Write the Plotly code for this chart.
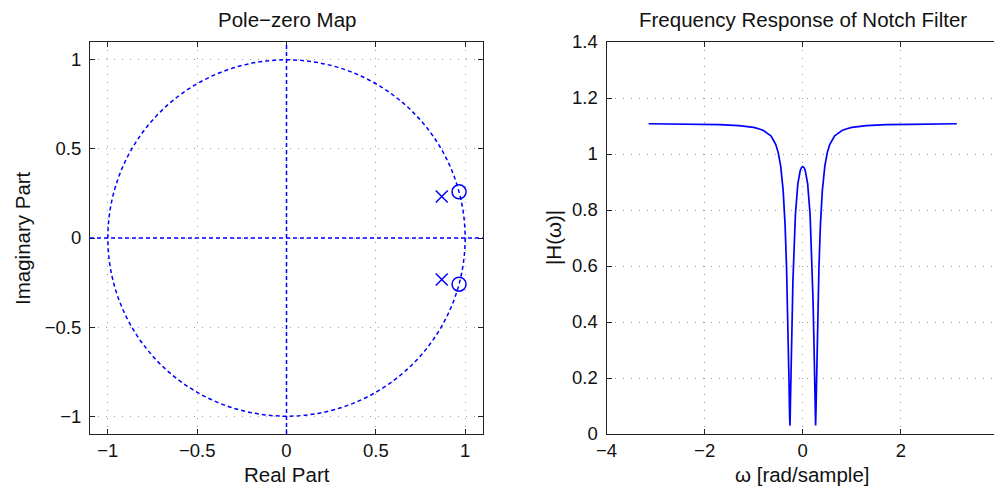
import plotly.graph_objects as go
from plotly.subplots import make_subplots

# ---- data ----
zeros_re = [0.966, 0.966]
zeros_im = [0.259, -0.259]
poles_re = [0.869, 0.869]
poles_im = [0.233, -0.233]

omega = [-3.1416, -2.7, -2.2, -1.7, -1.3, -1.0, -0.9, -0.8, -0.7, -0.65, -0.6, -0.55,
         -0.5, -0.45, -0.4, -0.36, -0.33, -0.32, -0.3, -0.29, -0.28, -0.27, -0.262,
         -0.255, -0.25, -0.24, -0.23, -0.21, -0.2, -0.15, -0.1, -0.05, -0.025, 0.0,
         0.025, 0.05, 0.1, 0.15, 0.2, 0.21, 0.23, 0.24, 0.25, 0.255, 0.262, 0.27,
         0.28, 0.29, 0.3, 0.32, 0.33, 0.36, 0.4, 0.45, 0.5, 0.55, 0.6, 0.65, 0.7,
         0.8, 0.9, 1.0, 1.3, 1.7, 2.2, 2.7, 3.1416]
mag = [1.108, 1.107, 1.106, 1.105, 1.101, 1.095, 1.090, 1.084, 1.071, 1.065, 1.050, 1.034,
       1.005, 0.957, 0.871, 0.746, 0.594, 0.528, 0.372, 0.282, 0.185, 0.085, 0.030,
       0.070, 0.121, 0.221, 0.314, 0.478, 0.548, 0.783, 0.893, 0.942, 0.952, 0.955,
       0.952, 0.942, 0.893, 0.783, 0.548, 0.478, 0.314, 0.221, 0.121, 0.070, 0.030, 0.085,
       0.185, 0.282, 0.372, 0.528, 0.594, 0.746, 0.871, 0.957, 1.005, 1.034, 1.050, 1.065, 1.071,
       1.084, 1.090, 1.095, 1.101, 1.105, 1.106, 1.107, 1.108]

pz_ticks = [-1, -0.5, 0, 0.5, 1]
w_ticks = [-4, -2, 0, 2, 4]
h_ticks = [0, 0.2, 0.4, 0.6, 0.8, 1, 1.2, 1.4]

FONT = "Liberation Sans"
FS_TICK = 18.5
FS_LAB = 20.5
BLUE = "#0000ff"

fig = make_subplots(rows=1, cols=2)

fig.add_trace(go.Scatter(x=zeros_re, y=zeros_im, mode="markers",
                         marker=dict(symbol="circle-open", size=14, color=BLUE,
                                     line=dict(width=1.5, color=BLUE)),
                         showlegend=False), row=1, col=1)
fig.add_trace(go.Scatter(x=poles_re, y=poles_im, mode="markers",
                         marker=dict(symbol="x-thin-open", size=12, color=BLUE,
                                     line=dict(width=1.5, color=BLUE)),
                         showlegend=False), row=1, col=1)
fig.add_trace(go.Scatter(x=omega, y=mag, mode="lines",
                         line=dict(color=BLUE, width=1.7), showlegend=False),
              row=1, col=2)

dash = "4px,3px"
# unit circle and axes through origin
fig.add_shape(type="circle", xref="x", yref="y", x0=-1, y0=-1, x1=1, y1=1,
              line=dict(color=BLUE, width=1.5, dash=dash))
fig.add_shape(type="line", xref="x domain", yref="y", x0=0, x1=1, y0=0, y1=0,
              line=dict(color=BLUE, width=1.5, dash=dash))
fig.add_shape(type="line", xref="x", yref="y domain", x0=0, x1=0, y0=0, y1=1,
              line=dict(color=BLUE, width=1.5, dash=dash))

W, H = 1002, 491
OFF = 8  # page body margin


def px(xs):
    return (xs - OFF) / W


def py(ys):
    return 1 - (ys - OFF) / H


common = dict(showline=True, linecolor="#222", linewidth=1, mirror="ticks",
              ticks="inside", ticklen=5, tickcolor="#222", tickwidth=1,
              showgrid=True, gridcolor="#9a9a9a", gridwidth=1, griddash="1px,7px",
              zeroline=False, automargin=False, ticklabeloverflow="allow",
              tickfont=dict(family=FONT, size=FS_TICK, color="#111"))

fig.update_xaxes(**common)
fig.update_yaxes(**common)

fig.update_layout(
    width=W, height=H, margin=dict(l=0, r=0, t=0, b=0, autoexpand=False),
    plot_bgcolor="white", paper_bgcolor="white",
    font=dict(family=FONT, size=FS_TICK, color="#111"),
    xaxis=dict(domain=[px(90), px(483)], range=[-1.1, 1.1], tickvals=pz_ticks,
               ticktext=["\u22121", "\u22120.5", "0", "0.5", "1"]),
    yaxis=dict(domain=[py(434), py(42)], range=[-1.1, 1.1], tickvals=pz_ticks,
               ticktext=["\u22121", "\u22120.5", "0", "0.5", "1"], ticklabelstandoff=4),
    xaxis2=dict(domain=[px(606.5), px(999)], range=[-4, 4], tickvals=w_ticks,
                ticktext=["\u22124", "\u22122", "0", "2", "4"]),
    yaxis2=dict(domain=[py(434), py(42)], range=[0, 1.4], tickvals=h_ticks,
                ticktext=["0", "0.2", "0.4", "0.6", "0.8", "1", "1.2", "1.4"],
                ticklabelstandoff=4),
)

ann = dict(showarrow=False, xref="paper", yref="paper", xanchor="center", yanchor="middle",
           font=dict(family=FONT, size=FS_LAB, color="#111"))
fig.add_annotation(text="Pole\u2212zero Map", x=px(287), y=py(20), **ann)
fig.add_annotation(text="Frequency Response of Notch Filter", x=px(803), y=py(20), **ann)
fig.add_annotation(text="Real Part", x=px(286.5), y=py(474), **ann)
fig.add_annotation(text="\u03c9 [rad/sample]", x=px(802.5), y=py(474), **ann)
fig.add_annotation(text="Imaginary Part", x=px(22), y=py(238), textangle=-90, **ann)
fig.add_annotation(text="|H(\u03c9)|", x=px(553), y=py(238), textangle=-90, **ann)

fig.write_html("out.html")
